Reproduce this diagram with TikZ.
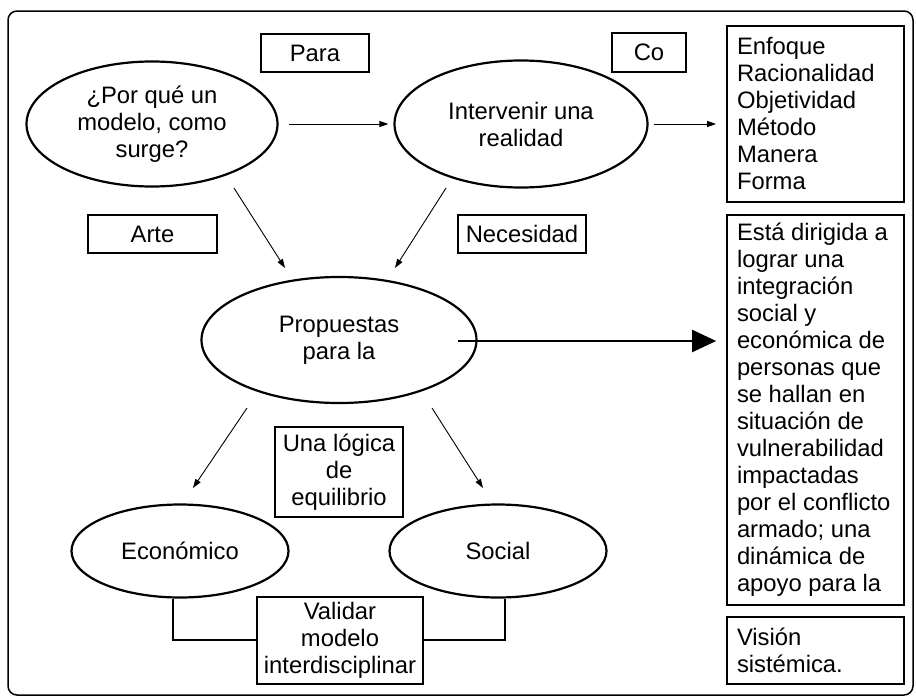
\documentclass[tikz,border=0pt]{standalone}
\usepackage{fontspec}
\setmainfont{Liberation Sans}
\usetikzlibrary{shapes.geometric,arrows.meta}
\begin{document}
\begin{tikzpicture}[x=1pt,y=-1pt,
  txt/.style={font=\fontsize{23.8}{27}\selectfont},
  oval/.style={ellipse, draw, line width=2.2pt, inner sep=0pt, align=center, txt},
  lbl/.style={draw, line width=1.7pt, inner sep=0pt, align=center, txt},
  lst/.style={draw, line width=1.7pt, inner xsep=10pt, inner ysep=0pt, align=flush left, txt, text width=157pt},
  arr/.style={line width=0.9pt, -{Triangle[length=9pt,width=6pt]}},
  bigarr/.style={line width=2.2pt, -{Triangle[length=24pt,width=22pt]}},
  link/.style={line width=1.6pt},
]
\useasboundingbox (0,0) rectangle (916,699);
\draw[line width=1.5pt, rounded corners=9pt] (8,11) rectangle (913,695);

% ellipses
\node[oval, minimum width=251pt, minimum height=125pt] (e1) at (152,124) {¿Por qué un\\modelo, como\\surge?};
\node[oval, minimum width=253pt, minimum height=127pt] (e2) at (521,124) {Intervenir una\\realidad};
\node[oval, minimum width=275pt, minimum height=126pt] (e3) at (339,340) {Propuestas\\para la};
\node[oval, minimum width=217pt, minimum height=93pt] (eco) at (180,551) {Económico};
\node[oval, minimum width=217pt, minimum height=93pt] (soc) at (498,551) {Social};

% labels
\node[lbl, minimum width=108pt, minimum height=38pt] (para) at (315,53) {Para};
\node[lbl, minimum width=74pt, minimum height=39pt] (co) at (649,52.5) {Co};
\node[lbl, minimum width=129pt, minimum height=38pt] (arte) at (152.5,234) {Arte};
\node[lbl, minimum width=128pt, minimum height=38pt] (nec) at (522,234) {Necesidad};
\node[lbl, minimum width=128pt, minimum height=90pt] (logica) at (339,472) {Una lógica\\de\\equilibrio};
\node[lbl, minimum width=166pt, minimum height=87pt] (val) at (340,640.5) {Validar\\modelo\\interdisciplinar};

% right column
\node[lst, minimum height=176pt] (lista) at (815.5,114) {Enfoque\\Racionalidad\\Objetividad\\Método\\Manera\\Forma};
\node[lst, minimum height=390pt] (big) at (815.5,410) {Está dirigida a\\lograr una\\integración\\social y\\económica de\\personas que\\se hallan en\\situación de\\vulnerabilidad\\impactadas\\por el conflicto\\armado; una\\dinámica de\\apoyo para la};
\node[lst, minimum height=67pt] (vis) at (815.5,650.5) {Visión\\sistémica.};

% connectors
\draw[arr, shorten <=10pt, shorten >=5pt] (e1.east) -- (e2.west);
\draw[arr, shorten <=5pt, shorten >=10pt] (e2.east) -- (e2.east -| lista.west);

\coordinate (a1) at (234,188); \coordinate (a1t) at (285,268);
\coordinate (a2) at (446,188); \coordinate (a2t) at (395,268);
\coordinate (a3) at (247,408); \coordinate (a3t) at (193,488);
\coordinate (a4) at (432,408); \coordinate (a4t) at (483,488);
\draw[arr] (a1) -- (a1t);
\draw[arr] (a2) -- (a2t);
\draw[arr] (a3) -- (a3t);
\draw[arr] (a4) -- (a4t);

\coordinate (b1) at (458,341);
\draw[bigarr, shorten >=10pt] (b1) -- (b1 -| big.west);

\coordinate (c1) at (173,640);
\coordinate (c2) at (505,640);
\draw[link] (eco.south -| c1) -- (c1) -- (c1 -| val.west);
\draw[link] (soc.south -| c2) -- (c2) -- (c2 -| val.east);
\end{tikzpicture}
\end{document}
